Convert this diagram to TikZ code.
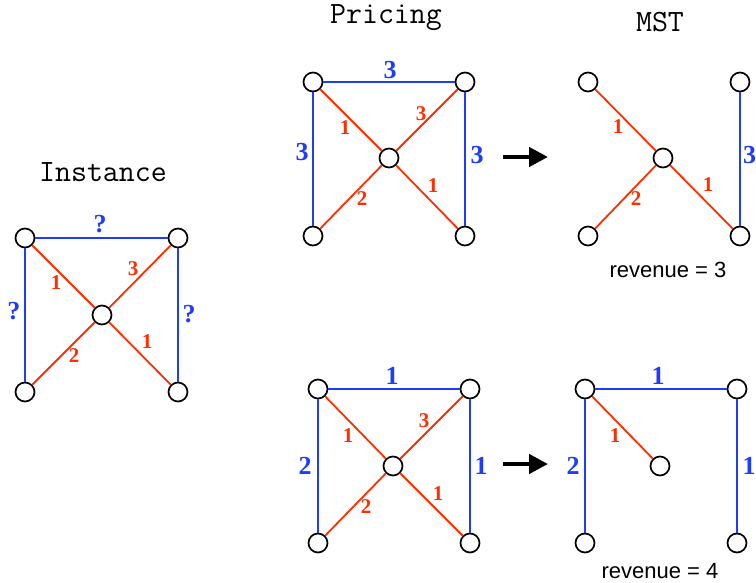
\documentclass[tikz,border=0pt]{standalone}
\usepackage{fontspec}
\setmainfont{Liberation Serif}
\newfontfamily\revfont{Liberation Sans}
\usetikzlibrary{arrows.meta}
\definecolor{edgered}{RGB}{255,45,0}
\definecolor{edgeblue}{RGB}{30,60,250}
\tikzset{
  vtx/.style={circle, draw=black, fill=white, line width=1.7pt, minimum size=19pt, inner sep=0pt},
  redge/.style={draw=edgered, line width=1.8pt},
  bedge/.style={draw=edgeblue, line width=1.8pt},
  rlbl/.style={text=edgered, font=\fontsize{21}{21}\selectfont\bfseries, inner sep=0pt},
  blbl/.style={text=edgeblue, font=\fontsize{26}{26}\selectfont\bfseries, inner sep=0pt},
  ttl/.style={font=\ttfamily\fontsize{31}{31}\selectfont, inner sep=0pt},
  rev/.style={font=\revfont\fontsize{22}{22}\selectfont, inner sep=0pt},
  bigarrow/.style={line width=4.5pt, -{Triangle[length=19pt,width=19pt]}}
}
\begin{document}
\begin{tikzpicture}[x=1pt,y=-1pt]
\useasboundingbox (0,0) rectangle (756,582);

% ---------- Instance ----------
\node[ttl] (tI) at (103,172) {Instance};
\node[vtx] (a1) at (25,238) {};
\node[vtx] (a2) at (178,238) {};
\node[vtx] (a3) at (102,315) {};
\node[vtx] (a4) at (25,392) {};
\node[vtx] (a5) at (178,392) {};
\draw[bedge] (a1) -- (a2);
\draw[bedge] (a1) -- (a4);
\draw[bedge] (a2) -- (a5);
\draw[redge] (a1) -- (a3);
\draw[redge] (a3) -- (a2);
\draw[redge] (a4) -- (a3);
\draw[redge] (a3) -- (a5);
\node[blbl] (la1) at (100,224) {?};
\node[blbl] (la2) at (14,311) {?};
\node[blbl] (la3) at (189,314) {?};
\node[rlbl] (la4) at (56,283) {1};
\node[rlbl] (la5) at (133,269) {3};
\node[rlbl] (la6) at (74,356) {2};
\node[rlbl] (la7) at (147,342) {1};

% ---------- Pricing (top) ----------
\node[ttl] (tP) at (386,18) {Pricing};
\node[vtx] (b1) at (313,82) {};
\node[vtx] (b2) at (465,82) {};
\node[vtx] (b3) at (389,158) {};
\node[vtx] (b4) at (313,236) {};
\node[vtx] (b5) at (465,236) {};
\draw[bedge] (b1) -- (b2);
\draw[bedge] (b1) -- (b4);
\draw[bedge] (b2) -- (b5);
\draw[redge] (b1) -- (b3);
\draw[redge] (b3) -- (b2);
\draw[redge] (b4) -- (b3);
\draw[redge] (b3) -- (b5);
\node[blbl] (lb1) at (390,70) {3};
\node[blbl] (lb2) at (302,152) {3};
\node[blbl] (lb3) at (477,155) {3};
\node[rlbl] (lb4) at (345,128) {1};
\node[rlbl] (lb5) at (421,114) {3};
\node[rlbl] (lb6) at (362,199) {2};
\node[rlbl] (lb7) at (433,186) {1};

% arrow to the first tree
\coordinate (ar1s) at (503,157);
\coordinate (ar1e) at (548,157);
\draw[bigarrow] (ar1s) -- (ar1e);

% ---------- MST (top) ----------
\node[ttl] (tM) at (660,22) {MST};
\node[vtx] (c1) at (588,82) {};
\node[vtx] (c2) at (740,82) {};
\node[vtx] (c3) at (663,158) {};
\node[vtx] (c4) at (588,236) {};
\node[vtx] (c5) at (740,236) {};
\draw[bedge] (c2) -- (c5);
\draw[redge] (c1) -- (c3);
\draw[redge] (c4) -- (c3);
\draw[redge] (c3) -- (c5);
\node[blbl, anchor=west] (lc3) at (743,155) {3};
\node[rlbl] (lc4) at (618,127) {1};
\node[rlbl] (lc6) at (636,199) {2};
\node[rlbl] (lc7) at (708,185) {1};
\node[rev] (rv1) at (668,270) {revenue = 3};

% ---------- Pricing (bottom) ----------
\node[vtx] (d1) at (318,389) {};
\node[vtx] (d2) at (470,389) {};
\node[vtx] (d3) at (393,466) {};
\node[vtx] (d4) at (318,543) {};
\node[vtx] (d5) at (470,543) {};
\draw[bedge] (d1) -- (d2);
\draw[bedge] (d1) -- (d4);
\draw[bedge] (d2) -- (d5);
\draw[redge] (d1) -- (d3);
\draw[redge] (d3) -- (d2);
\draw[redge] (d4) -- (d3);
\draw[redge] (d3) -- (d5);
\node[blbl] (ld1) at (392,376) {1};
\node[blbl] (ld2) at (305,466) {2};
\node[blbl] (ld3) at (481,466) {1};
\node[rlbl] (ld4) at (348,436) {1};
\node[rlbl] (ld5) at (424,421) {3};
\node[rlbl] (ld6) at (366,507) {2};
\node[rlbl] (ld7) at (438,494) {1};

% arrow to the second tree
\coordinate (ar2s) at (503,464);
\coordinate (ar2e) at (548,464);
\draw[bigarrow] (ar2s) -- (ar2e);

% ---------- MST (bottom) ----------
\node[vtx] (e1) at (585,389) {};
\node[vtx] (e2) at (737,389) {};
\node[vtx] (e3) at (660,466) {};
\node[vtx] (e4) at (585,543) {};
\node[vtx] (e5) at (737,543) {};
\draw[bedge] (e1) -- (e2);
\draw[bedge] (e1) -- (e4);
\draw[bedge] (e2) -- (e5);
\draw[redge] (e1) -- (e3);
\node[blbl] (le1) at (658,376) {1};
\node[blbl] (le2) at (573,466) {2};
\node[blbl] (le3) at (749,466) {1};
\node[rlbl] (le4) at (615,436) {1};
\node[rev] (rv2) at (660,571) {revenue = 4};
\end{tikzpicture}
\end{document}
